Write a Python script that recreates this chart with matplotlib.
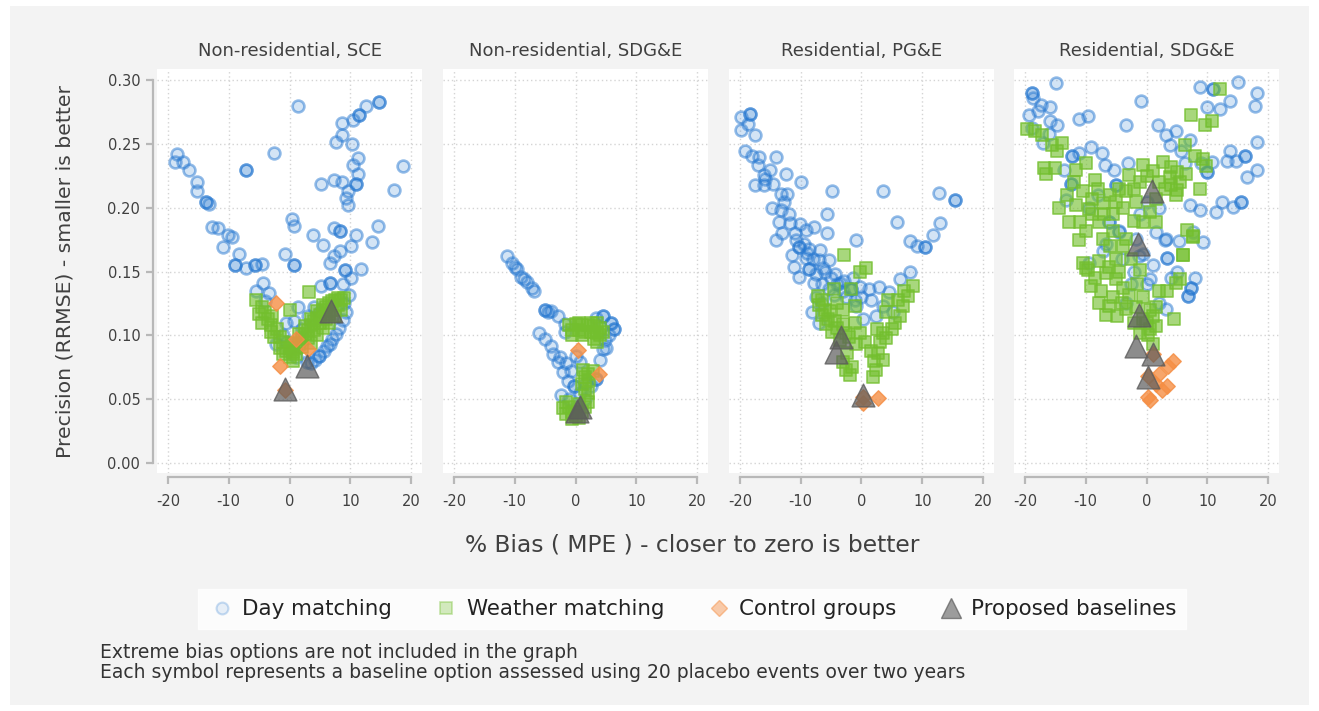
import matplotlib
matplotlib.use("Agg")
import matplotlib.pyplot as plt
from matplotlib.lines import Line2D
from matplotlib.patches import Rectangle

plt.rcParams['font.family'] = ['DejaVu Sans']
plt.rcParams['axes.unicode_minus'] = False

# ---- Non-residential, SCE ----
nr_sce_day_x = [-18.9, -18.5, -17.5, -16.5, -15.3, -15.3, -13.8, -13.8, -13.2, -12.8, -11.8, -10.1, -9.4,
                -11.0, -8.3, -9.0, -9.0, -7.1, -5.6, -5.6, -4.6, -7.1, -7.1, -2.5,
                1.4, 0.4, 0.7, -0.8, 0.7, 0.7,
                14.8, 14.8, 12.6, 11.5, 11.5, 10.4, 8.7, 8.7, 7.6, 10.3, 10.4, 11.2, 11.2, 18.6, 17.2,
                5.2, 7.4, 8.6, 10.9, 10.9, 9.6, 9.3, 9.7, 3.8, 5.5, 7.4, 8.3, 8.3, 10.9, 14.6, 13.6,
                10.1, 8.3, 7.4, 6.6, 9.2, 9.2, 10.1, 11.8, 6.6, 6.6, 5.2, 9.8, 8.8,
                -4.4, -5.5, -3.3, -4.0, 1.4, -0.5, 0.8, -2.2, -1.0, 2.0, 3.0, 4.0, 5.0, 6.6, 4.9, 4.9,
                3.5, 4.2, 5.6, 6.2, 7.0, 7.6, 8.2, 8.8, 9.3, 9.0, 2.8, -0.5, 1.0]
nr_sce_day_y = [0.236, 0.242, 0.236, 0.230, 0.220, 0.213, 0.205, 0.205, 0.203, 0.185, 0.184, 0.179, 0.177,
                0.169, 0.164, 0.155, 0.155, 0.153, 0.155, 0.155, 0.156, 0.230, 0.230, 0.243,
                0.280, 0.191, 0.186, 0.164, 0.155, 0.155,
                0.283, 0.283, 0.280, 0.273, 0.273, 0.269, 0.267, 0.257, 0.252, 0.250, 0.234, 0.239, 0.227, 0.233, 0.214,
                0.219, 0.222, 0.220, 0.219, 0.219, 0.213, 0.208, 0.202, 0.179, 0.171, 0.184, 0.182, 0.182, 0.179, 0.186, 0.173,
                0.170, 0.166, 0.162, 0.157, 0.151, 0.151, 0.145, 0.152, 0.141, 0.141, 0.139, 0.132, 0.140,
                0.141, 0.135, 0.133, 0.127, 0.122, 0.110, 0.111, 0.093, 0.100, 0.105, 0.115, 0.122, 0.118, 0.093, 0.084, 0.084,
                0.078, 0.081, 0.088, 0.092, 0.097, 0.101, 0.106, 0.112, 0.118, 0.125, 0.079, 0.095, 0.083]
nr_sce_weather_x = [3.2, -5.5, 0.0, -4.0, -3.5, -2.8, -4.5, -3.0, -3.0, -2.0, -1.5, -2.5, -1.0, 0.0, 0.5, 1.0,
                    0.5, 1.5, 2.0, 1.5, 2.5, 3.0, 2.5, 3.5, 4.0, 3.5, 4.5, 5.0, 4.5, 5.5, 6.0, 5.5, 6.5, 7.0,
                    7.5, 8.0, 8.5, 9.0, 8.0, 7.0, 6.5, 6.0, 5.0, 4.0, 3.0, 2.0, 1.0, 0.0, -0.5, 4.5, 5.5,
                    6.5, 7.5, 8.5, 3.5, -1.0, 0.5, -1.5, -4.5, -5.0]
nr_sce_weather_y = [0.134, 0.128, 0.120, 0.118, 0.113, 0.115, 0.122, 0.108, 0.103, 0.105, 0.099, 0.099, 0.095,
                    0.090, 0.087, 0.090, 0.094, 0.093, 0.097, 0.101, 0.101, 0.104, 0.107, 0.108, 0.111, 0.113,
                    0.114, 0.116, 0.119, 0.120, 0.122, 0.124, 0.125, 0.127, 0.128, 0.129, 0.128, 0.129, 0.124,
                    0.120, 0.117, 0.113, 0.110, 0.104, 0.098, 0.091, 0.085, 0.083, 0.088, 0.100, 0.106, 0.110,
                    0.115, 0.120, 0.094, 0.085, 0.080, 0.090, 0.110, 0.117]
nr_sce_control_x = [-2.3, 1.1, 3.0, -1.6, -0.8]
nr_sce_control_y = [0.125, 0.097, 0.089, 0.076, 0.057]
nr_sce_proposed_x = [6.8, 2.8, -0.7]
nr_sce_proposed_y = [0.119, 0.076, 0.058]

# ---- Non-residential, SDG&E ----
nr_sdge_day_x = [-11.2, -10.4, -9.7, -9.0, -8.0, -7.1, -6.8, -9.9, -8.5,
                 -5.1, -5.1, -4.6, -4.0, -2.9, -1.8, -1.8,
                 3.4, 4.5, 4.5, 5.9, 5.9, 6.4, 6.4, 5.5, 4.8, 5.0,
                 -6.0, -5.0, -4.0, -3.7, -2.9, -2.1, -1.3, -2.4, -2.5, -1.5, -0.8,
                 0.1, 0.7, 4.5, 4.0, 3.4, 3.4, 1.8, -0.2, -0.2, 2.5, 0.8, 1.5, -1.0]
nr_sdge_day_y = [0.1625, 0.157, 0.152, 0.146, 0.142, 0.137, 0.135, 0.154, 0.144,
                 0.120, 0.120, 0.118, 0.119, 0.115, 0.109, 0.103,
                 0.114, 0.115, 0.115, 0.110, 0.110, 0.105, 0.105, 0.100, 0.096, 0.090,
                 0.102, 0.097, 0.092, 0.085, 0.079, 0.071, 0.064, 0.053, 0.083, 0.078, 0.072,
                 0.084, 0.079, 0.089, 0.081, 0.066, 0.066, 0.063, 0.060, 0.060, 0.060, 0.055, 0.050, 0.050]
nr_sdge_weather_x = [-1.0, -0.5, 0.0, 0.5, 1.0, 1.5, 2.0, 2.5, 3.0, 3.5, 4.0, 4.0, 3.0, 1.0, -0.5, 0.5, 2.5,
                     3.5, 4.5, 3.5, 1.2, 2.0, 2.8, 1.5, 2.3, 1.0,
                     -1.5, -1.0, -0.5, 0.0, 0.5, 1.0, 1.5, 2.0, -2.0, -1.5, -0.5, 0.5, 2.0, 1.5]
nr_sdge_weather_y = [0.108, 0.104, 0.109, 0.104, 0.108, 0.103, 0.108, 0.103, 0.107, 0.102, 0.106, 0.100, 0.097,
                     0.100, 0.100, 0.110, 0.110, 0.110, 0.103, 0.095, 0.073, 0.070, 0.072, 0.067, 0.065, 0.062,
                     0.048, 0.044, 0.040, 0.037, 0.035, 0.040, 0.044, 0.048, 0.043, 0.038, 0.034, 0.046, 0.055, 0.058]
nr_sdge_control_x = [0.4, 3.9]
nr_sdge_control_y = [0.0885, 0.070]
nr_sdge_proposed_x = [0.3, 0.8]
nr_sdge_proposed_y = [0.041, 0.044]

# ---- Residential, PG&E ----
res_pge_day_x = [-19.9, -18.3, -18.3, -18.6, -19.9, -17.5, -19.1, -18.0, -16.9, -17.0, -14.1, -12.5, -15.8,
                 -16.1, -17.5, -14.5, -10.0, -13.3, -12.2, -4.8, 3.5, 12.7, 15.4, 15.4, -13.3, -14.7, -5.6,
                 5.8, -11.7, -10.2, -13.6, -13.0, -9.2, -7.8, -5.6, -14.1, -10.8, -10.3, -10.3, -8.6, -6.9,
                 -0.9, 12.9, 11.8, 8.0, 9.1, 10.5, 10.5, -11.1, -10.3, -8.6, -8.6, -7.5, -6.4, -4.4, -2.8,
                 -1.4, -7.0, -9.2, -5.3, -7.8, -5.3, -3.6, -1.7, -1.7, -0.3, 1.3, 2.9, 4.6, 6.3, 8.0, -8.1,
                 -7.0, 3.5, 2.4, 0.2, 5.2, -0.9,
                 -12.0, -11.0, -9.5, -8.0, -6.0, -5.0, -4.0, -3.0, -2.5, -6.5, -4.5, -9.0, -12.8, -15.0,
                 -16.0, -11.5, -7.5, -6.5, 1.5, 0.0, -1.0]
res_pge_day_y = [0.271, 0.274, 0.274, 0.266, 0.261, 0.257, 0.245, 0.241, 0.240, 0.234, 0.240, 0.227, 0.223,
                 0.218, 0.218, 0.219, 0.220, 0.211, 0.211, 0.2135, 0.213, 0.212, 0.206, 0.206, 0.198, 0.200, 0.195,
                 0.189, 0.188, 0.187, 0.189, 0.180, 0.183, 0.185, 0.180, 0.175, 0.175, 0.169, 0.169, 0.168, 0.167,
                 0.175, 0.188, 0.179, 0.174, 0.170, 0.169, 0.169, 0.154, 0.146, 0.152, 0.152, 0.148, 0.153, 0.148, 0.143,
                 0.145, 0.159, 0.161, 0.159, 0.141, 0.136, 0.141, 0.136, 0.136, 0.138, 0.136, 0.138, 0.134, 0.144, 0.150, 0.118,
                 0.110, 0.123, 0.115, 0.1125, 0.118, 0.123,
                 0.195, 0.180, 0.172, 0.160, 0.150, 0.145, 0.140, 0.135, 0.130, 0.140, 0.132, 0.165, 0.205, 0.230,
                 0.226, 0.163, 0.130, 0.125, 0.128, 0.130, 0.128]
res_pge_weather_x = [-2.8, 0.8, -0.3, -4.5, -1.7, -7.2, 8.5, 7.7, 6.9, 6.3, 4.4, -1.1, -7.0, -6.5, -5.9, -5.2,
                     -4.4, -4.9, -3.1, -2.6, -6.0, -5.5, -4.0, -3.5, -0.3, -0.9, 3.5, 4.1, 2.7, 3.5, 2.4, 1.9,
                     -2.4, -3.0, -1.9, -2.5, -1.5, 5.5, 5.0, 6.0, 3.0, 2.0, 1.5, -4.0, -6.5, -3.0, 7.0, 4.0,
                     2.5, -2.0, -1.0, 0.5]
res_pge_weather_y = [0.163, 0.153, 0.150, 0.136, 0.136, 0.131, 0.139, 0.131, 0.123, 0.115, 0.128, 0.123, 0.124,
                     0.116, 0.109, 0.119, 0.111, 0.103, 0.109, 0.102, 0.120, 0.113, 0.106, 0.096, 0.102, 0.093,
                     0.102, 0.098, 0.0865, 0.081, 0.073, 0.067, 0.086, 0.079, 0.069, 0.073, 0.075, 0.110, 0.105,
                     0.128, 0.095, 0.080, 0.088, 0.125, 0.128, 0.120, 0.135, 0.118, 0.105, 0.099, 0.110, 0.095]
res_pge_control_x = [2.7, 0.2, 0.3]
res_pge_control_y = [0.051, 0.047, 0.052]
res_pge_proposed_x = [-3.4, -4.2, 0.3]
res_pge_proposed_y = [0.099, 0.087, 0.053]

# ---- Residential, SDG&E ----
res_sdge_day_x = [-14.9, -18.8, -18.8, -18.7, -17.4, -15.8, -19.3, -17.8, -15.8, -14.7, -11.1, -9.6, -18.8,
                  -17.1, -12.2, -12.2, -11.1, -9.1, -7.4, -6.9, -5.3, -3.1, -0.9, -3.4, 1.9, 3.2, 4.9, 3.8,
                  5.7, 7.1, 8.8, 10.9, 10.9, 9.9, 12.1, 13.7, 15.1, 18.1, 17.9, 18.1, 16.2, 16.2, 13.7, 13.2,
                  14.8, 18.1, 16.5, 9.9, 9.9, 10.7, 9.0, 6.4, -5.0, -5.0, -12.4, -12.4, -13.3, 14.3, 15.6,
                  15.6, 11.5, 8.8, 7.2, -6.1, -6.1, -4.5, 1.6, 3.2, 5.4, 7.7, 9.3, 3.3, 3.3, -0.5, -7.2,
                  -9.4, -4.5, 3.0, 0.5, 0.0, 7.4, 7.4, 6.8, 6.8, 7.9, 2.1, 3.2, -1.7, -1.2, -6.7, -3.4,
                  -2.0, -1.0, 0.0, 2.0, -8.0, -9.5, 1.0, 4.0, -2.5, 5.0, -4.0, 12.5, -16.0, -13.5]
res_sdge_day_y = [0.298, 0.290, 0.290, 0.286, 0.281, 0.279, 0.273, 0.276, 0.268, 0.265, 0.270, 0.272, 0.263,
                  0.251, 0.241, 0.241, 0.243, 0.248, 0.243, 0.234, 0.230, 0.235, 0.284, 0.265, 0.265, 0.257,
                  0.260, 0.249, 0.245, 0.253, 0.295, 0.293, 0.293, 0.279, 0.278, 0.284, 0.299, 0.290, 0.280,
                  0.252, 0.241, 0.241, 0.245, 0.237, 0.237, 0.230, 0.224, 0.228, 0.228, 0.236, 0.235, 0.235,
                  0.218, 0.218, 0.219, 0.219, 0.206, 0.201, 0.205, 0.205, 0.197, 0.198, 0.202, 0.189, 0.189,
                  0.182, 0.181, 0.176, 0.174, 0.181, 0.173, 0.161, 0.161, 0.164, 0.166, 0.157, 0.181, 0.175,
                  0.144, 0.140, 0.137, 0.137, 0.131, 0.131, 0.145, 0.1255, 0.121, 0.176, 0.162, 0.172, 0.1255,
                  0.150, 0.195, 0.205, 0.200, 0.210, 0.200, 0.155, 0.145, 0.140, 0.150, 0.160, 0.205, 0.258, 0.230]
res_sdge_weather_x = [-19.6, -18.3, -17.2, -15.5, -13.9, -14.7, -16.9, -15.0, -16.6, -11.6, -10.0, 7.4, 10.7,
                      9.6, 12.1, 6.3, 7.9, 9.3, 9.8, 8.8, 2.7, 1.1, -0.6, 3.8, 4.0, 5.0, 5.5, 4.9, 6.5, 1.6,
                      -2.8, -3.4, -1.7, -10.5, -8.9, -11.6, -14.4, -9.4, -7.2, -7.8, -12.7, -11.0, -9.9, -11.1,
                      -5.5, -3.9, 0.5, -0.6, 1.6, -3.4, -3.9, -7.2, 6.0, 7.7, 6.6, -10.0, -7.8, -6.7, 5.5,
                      -10.5, -9.7, -6.1, -9.1, -7.8, -6.1, -6.7, -4.8, -3.4, -5.0, -3.9, -2.8, -1.7, -0.6, 0.5,
                      1.6, 1.0, 4.6, 3.3, 4.9, 6.0, 7.7, -1.1, 1.6,
                      -8.0, -6.0, -5.0, -9.0, -7.0, -5.5, -2.0, -1.0, 0.0, 3.0, 2.0, 5.0, 4.0, -13.0, -12.0,
                      -8.5, -4.5, -2.0, -6.0, -5.0, -2.5, -4.5, -1.5, -0.5, 0.5, -1.0, 0.0, 1.0, 2.0, -8.5,
                      -7.5, -5.5, -4.0, -2.0, 0.2]
res_sdge_weather_y = [0.262, 0.260, 0.257, 0.249, 0.251, 0.245, 0.231, 0.231, 0.227, 0.230, 0.235, 0.273, 0.268,
                      0.265, 0.293, 0.249, 0.241, 0.238, 0.233, 0.215, 0.236, 0.229, 0.234, 0.224, 0.218, 0.214,
                      0.220, 0.210, 0.227, 0.207, 0.226, 0.213, 0.205, 0.213, 0.207, 0.202, 0.200, 0.199, 0.204,
                      0.189, 0.189, 0.189, 0.182, 0.175, 0.182, 0.200, 0.197, 0.189, 0.189, 0.176, 0.170, 0.176,
                      0.163, 0.178, 0.183, 0.153, 0.158, 0.149, 0.144, 0.157, 0.151, 0.154, 0.139, 0.1255, 0.123,
                      0.116, 0.115, 0.121, 0.144, 0.137, 0.132, 0.122, 0.1125, 0.105, 0.107, 0.093, 0.1125,
                      0.135, 0.141, 0.163, 0.177, 0.151, 0.122,
                      0.215, 0.210, 0.205, 0.195, 0.195, 0.195, 0.215, 0.220, 0.225, 0.215, 0.220, 0.228, 0.232,
                      0.210, 0.220, 0.222, 0.215, 0.190, 0.170, 0.160, 0.160, 0.150, 0.140, 0.130, 0.120, 0.102,
                      0.110, 0.115, 0.135, 0.145, 0.135, 0.130, 0.125, 0.110, 0.100]
res_sdge_control_x = [4.3, 3.5, 3.3, 2.5, 0.5, 0.2, 1.0, 1.5, 0.2, 2.0]
res_sdge_control_y = [0.080, 0.076, 0.060, 0.057, 0.049, 0.068, 0.085, 0.062, 0.052, 0.070]
res_sdge_proposed_x = [0.9, -1.4, -1.2, -1.7, 1.0, 0.2]
res_sdge_proposed_y = [0.213, 0.172, 0.116, 0.092, 0.085, 0.067]

panel_titles = ['Non-residential, SCE', 'Non-residential, SDG&E', 'Residential, PG&E', 'Residential, SDG&E']
panels = [
    (nr_sce_day_x, nr_sce_day_y, nr_sce_weather_x, nr_sce_weather_y,
     nr_sce_control_x, nr_sce_control_y, nr_sce_proposed_x, nr_sce_proposed_y),
    (nr_sdge_day_x, nr_sdge_day_y, nr_sdge_weather_x, nr_sdge_weather_y,
     nr_sdge_control_x, nr_sdge_control_y, nr_sdge_proposed_x, nr_sdge_proposed_y),
    (res_pge_day_x, res_pge_day_y, res_pge_weather_x, res_pge_weather_y,
     res_pge_control_x, res_pge_control_y, res_pge_proposed_x, res_pge_proposed_y),
    (res_sdge_day_x, res_sdge_day_y, res_sdge_weather_x, res_sdge_weather_y,
     res_sdge_control_x, res_sdge_control_y, res_sdge_proposed_x, res_sdge_proposed_y),
]
x_ticks = [-20, -10, 0, 10, 20]
y_ticks = [0.00, 0.05, 0.10, 0.15, 0.20, 0.25, 0.30]

BLUE = (0.15, 0.47, 0.82)
GREEN = (0.45, 0.75, 0.18)
ORANGE = (0.96, 0.56, 0.27)
GRAY = (0.36, 0.36, 0.36)
AXIS_GRAY = '#b8b8b8'
TEXT = '#404040'

W, H = 1319, 711
fig = plt.figure(figsize=(W / 100, H / 100), dpi=100)
fig.patch.set_facecolor('white')
fig.patches.append(Rectangle((10 / W, 6 / H), 1299 / W, 699 / H, transform=fig.transFigure,
                             facecolor='#f3f3f3', edgecolor='none', zorder=-10))

lefts = [157, 443, 729, 1014]
for i, (left, title, data) in enumerate(zip(lefts, panel_titles, panels)):
    dx, dy, wx, wy, cx, cy, px, py = data
    ax = fig.add_axes([left / W, 1 - 473 / H, 265 / W, 404 / H])
    ax.set_facecolor('white')
    ax.scatter(dx, dy, s=72, marker='o', facecolors=BLUE + (0.2,), edgecolors=BLUE + (0.5,),
               linewidths=1.9, zorder=3)
    ax.scatter(wx, wy, s=70, marker='s', facecolors=GREEN + (0.62,), edgecolors=GREEN + (0.72,),
               linewidths=1.3, zorder=4)
    ax.scatter(cx, cy, s=62, marker='D', facecolors=ORANGE + (0.8,), edgecolors=ORANGE + (0.85,),
               linewidths=1.0, zorder=5)
    ax.scatter(px, py, s=270, marker='^', facecolors=GRAY + (0.7,), edgecolors=GRAY + (0.8,),
               linewidths=1.0, zorder=6)

    ax.set_xlim(-21.8, 21.8)
    ax.set_ylim(-0.008, 0.309)
    ax.set_xticks(x_ticks)
    ax.set_yticks(y_ticks)
    ax.grid(True, color='#d4d4d4', linestyle=(0, (1, 2)), linewidth=1.0, zorder=0)
    ax.set_axisbelow(True)

    for side in ['top', 'right']:
        ax.spines[side].set_visible(False)
    ax.spines['bottom'].set_position(('outward', 3))
    ax.spines['bottom'].set_bounds(-20, 20)
    ax.spines['bottom'].set_color(AXIS_GRAY)
    ax.spines['bottom'].set_linewidth(1.6)
    ax.tick_params(axis='x', direction='out', length=5, width=1.6, color=AXIS_GRAY,
                   labelsize=10.5, labelcolor=TEXT, pad=7)
    ax.set_xticklabels([str(t) for t in x_ticks])

    if i == 0:
        ax.spines['left'].set_position(('outward', 3))
        ax.spines['left'].set_bounds(0, 0.30)
        ax.spines['left'].set_color(AXIS_GRAY)
        ax.spines['left'].set_linewidth(1.6)
        ax.tick_params(axis='y', direction='out', length=5, width=1.6, color=AXIS_GRAY,
                       labelsize=10.5, labelcolor=TEXT, pad=4)
        ax.set_yticklabels(['%.2f' % t for t in y_ticks])
    else:
        ax.spines['left'].set_visible(False)
        ax.tick_params(axis='y', left=False, labelleft=False)

    ax.set_title(title, fontsize=13, color=TEXT, pad=9)

fig.text(65 / W, 1 - 272 / H, 'Precision (RRMSE) - smaller is better', rotation=90,
         ha='center', va='center', fontsize=14.7, color=TEXT)
fig.text(692 / W, 1 - 545 / H, '% Bias ( MPE ) - closer to zero is better',
         ha='center', va='center', fontsize=16.8, color=TEXT)

handles = [
    Line2D([], [], linestyle='none', marker='o', markersize=8.5, markerfacecolor=BLUE + (0.1,),
           markeredgecolor=BLUE + (0.25,), markeredgewidth=1.5, label='Day matching'),
    Line2D([], [], linestyle='none', marker='s', markersize=8.5, markerfacecolor=GREEN + (0.3,),
           markeredgecolor=GREEN + (0.4,), markeredgewidth=1.2, label='Weather matching'),
    Line2D([], [], linestyle='none', marker='D', markersize=8.5, markerfacecolor=ORANGE + (0.45,),
           markeredgecolor=ORANGE + (0.5,), label='Control groups'),
    Line2D([], [], linestyle='none', marker='^', markersize=15, markerfacecolor=GRAY + (0.6,),
           markeredgecolor=GRAY + (0.7,), label='Proposed baselines'),
]
leg = fig.legend(handles=handles, loc='center', bbox_to_anchor=(692 / W, 1 - 609 / H), ncol=4,
                 frameon=True, fancybox=False, facecolor='white', edgecolor='white',
                 fontsize=15.4, handletextpad=0.3, handlelength=1.3, columnspacing=1.9, borderpad=0.45)
for t in leg.get_texts():
    t.set_color('#222222')

fig.text(100 / W, 1 - 652 / H, 'Extreme bias options are not included in the graph',
         ha='left', va='center', fontsize=13.5, color='#333333')
fig.text(100 / W, 1 - 673 / H,
         'Each symbol represents a baseline option assessed using 20 placebo events over two years',
         ha='left', va='center', fontsize=13.5, color='#333333')

fig.savefig('out.png', dpi=100, facecolor=fig.get_facecolor())
